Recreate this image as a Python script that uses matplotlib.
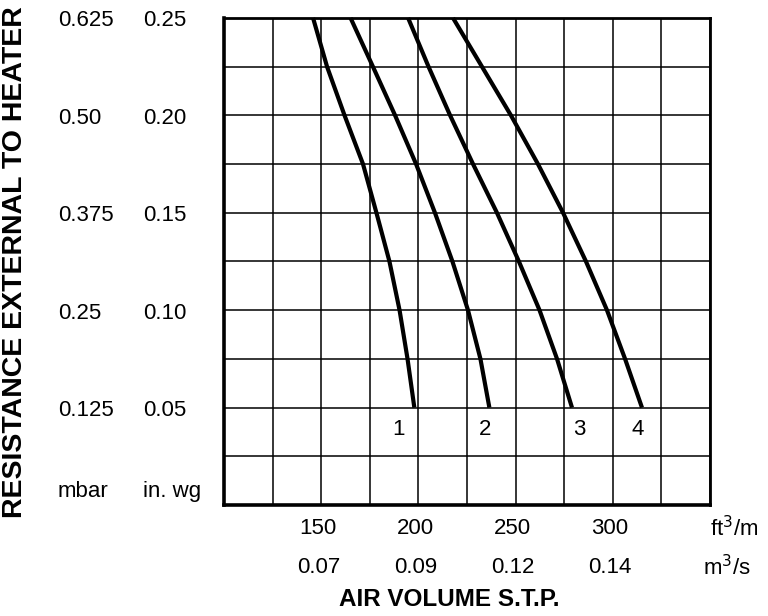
import matplotlib
matplotlib.use("Agg")
import matplotlib.pyplot as plt
import matplotlib.transforms as mtransforms
import numpy as np

plt.rcParams['font.family'] = ['Liberation Sans', 'DejaVu Sans']

# resistance in in. wg (points where the curves cross the grid rows)
resistance = [0.25, 0.225, 0.20, 0.175, 0.15, 0.125, 0.10, 0.075, 0.05]
# air volume ft3/min for each heater curve
curve1 = [145.8, 153.0, 162.0, 171.5, 178.4, 185.1, 190.3, 194.4, 197.9]
curve2 = [165.1, 176.6, 188.0, 198.8, 208.5, 217.5, 225.5, 231.9, 236.5]
curve3 = [194.7, 205.2, 216.3, 228.1, 240.4, 251.7, 262.3, 271.3, 279.0]
curve4 = [217.8, 232.7, 247.6, 261.5, 274.4, 286.2, 297.0, 306.3, 315.0]
curves = [curve1, curve2, curve3, curve4]
curve_names = ["1", "2", "3", "4"]
name_x = [190, 234.3, 283, 313]

x_ticks = [150, 200, 250, 300]
x_labels_ft = ["150", "200", "250", "300"]
x_labels_m3 = ["0.07", "0.09", "0.12", "0.14"]
y_ticks = [0.05, 0.10, 0.15, 0.20, 0.25]
y_labels_wg = ["0.05", "0.10", "0.15", "0.20", "0.25"]
y_labels_mbar = ["0.125", "0.25", "0.375", "0.50", "0.625"]

fig = plt.figure(figsize=(7.68, 6.16), dpi=100)
ax = fig.add_axes([0.2917, 0.1802, 0.6328, 0.7906])
ax.set_xlim(100, 350)
ax.set_ylim(0, 0.25)
ax.set_xticks(np.arange(100, 351, 25))
ax.set_yticks(np.arange(0, 0.2501, 0.025))
ax.tick_params(length=0, labelbottom=False, labelleft=False)
ax.grid(True, color='black', lw=1.1)
ax.set_axisbelow(True)
for side in ['left', 'bottom']:
    ax.spines[side].set_linewidth(2.6)
for side in ['top', 'right']:
    ax.spines[side].set_linewidth(2.0)

for c in curves:
    ax.plot(c, resistance, color='black', lw=3.0, solid_capstyle='butt',
            solid_joinstyle='round', clip_on=False)

for name, nx in zip(curve_names, name_x):
    ax.text(nx, 0.039, name, ha='center', va='center', fontsize=16)

# x labels under the axes
xt = ax.get_xaxis_transform()
for x, a, b in zip(x_ticks, x_labels_ft, x_labels_m3):
    ax.text(x - 1.5, -0.048, a, transform=xt, ha='center', va='center', fontsize=16)
    ax.text(x - 1.5, -0.129, b, transform=xt, ha='center', va='center', fontsize=16)
ax.text(0.999, -0.048, "ft$^3$/m", transform=ax.transAxes, ha='left', va='center', fontsize=16)
ax.text(0.985, -0.129, "m$^3$/s", transform=ax.transAxes, ha='left', va='center', fontsize=16)
fig.text(0.585, 0.026, "AIR VOLUME S.T.P.", ha='center', va='center',
         fontsize=17.5, fontweight='bold')

# y labels, two unit columns on the left
yt = mtransforms.blended_transform_factory(fig.transFigure, ax.transData)
for y, a, b in zip(y_ticks, y_labels_mbar, y_labels_wg):
    ax.text(58 / 768, y - 0.0015, a, transform=yt, ha='left', va='center', fontsize=16)
    ax.text(143 / 768, y - 0.0015, b, transform=yt, ha='left', va='center', fontsize=16)
ax.text(58 / 768, 0.007, "mbar", transform=yt, ha='left', va='center', fontsize=16)
ax.text(143 / 768, 0.007, "in. wg", transform=yt, ha='left', va='center', fontsize=16)
fig.text(0.0195, 0.575, "RESISTANCE EXTERNAL TO HEATER", rotation=90, ha='center',
         va='center', fontsize=20.5, fontweight='bold')

fig.savefig("out.png", dpi=100)
